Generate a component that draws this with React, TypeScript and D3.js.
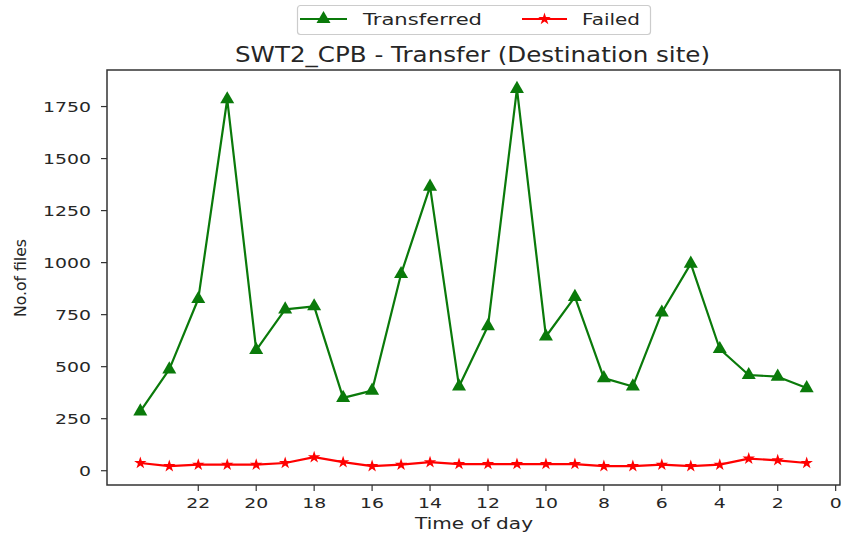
import React from "react";
import * as d3 from "d3";

// hours before now, left to right
const hours = [24, 23, 22, 21, 20, 19, 18, 17, 16, 15, 14, 13, 12, 11, 10, 9, 8, 7, 6, 5, 4, 3, 2, 1];
const transferred = [285, 487, 825, 1785, 580, 775, 790, 350, 385, 945, 1365, 405, 695, 1835, 645, 835, 445, 405, 760, 995, 585, 460, 452, 397];
const failed = [37, 22, 29, 29, 29, 37, 65, 41, 22, 29, 41, 32, 32, 32, 32, 32, 22, 22, 29, 22, 29, 58, 50, 37];
const xTicks = [22, 20, 18, 16, 14, 12, 10, 8, 6, 4, 2, 0];
const yTicks = [0, 250, 500, 750, 1000, 1250, 1500, 1750];

const W = 846;
const H = 535;
const left = 107, right = 840, top = 70, bottom = 485;
const font = "DejaVu Sans, sans-serif";
const txt = "#262626";
const green = "#0a7a0a";

const App = () => {
    const xPad = (d3.max(hours)! - d3.min(hours)!) * 0.05;
    const x = d3.scaleLinear()
        .domain([d3.max(hours)! + xPad, d3.min(hours)! - xPad])
        .range([left, right]);

    const all = transferred.concat(failed);
    const yMin = d3.min(all)!, yMax = d3.max(all)!;
    const yPad = (yMax - yMin) * 0.05;
    const y = d3.scaleLinear().domain([yMin - yPad, yMax + yPad]).range([bottom, top]);

    const line = d3.line<number>()
        .x((d, i) => x(hours[i]))
        .y((d) => y(d));

    const tri = d3.symbol().type(d3.symbolTriangle).size(85)()!;
    const star = d3.symbol().type(d3.symbolStar).size(48)()!;

    return (
        <svg width={W} height={H} style={{ position: "absolute", left: 0, top: 0, background: "#fff" }}>
            {/* title */}
            <text x={235} y={62} fontFamily={font} fontSize={21.5} fill={txt}
                textLength={475} lengthAdjust="spacingAndGlyphs">
                SWT2_CPB - Transfer (Destination site)
            </text>

            {/* legend */}
            <rect x={297.5} y={5.5} width={353} height={29} rx={3} fill="#fff" stroke="#cccccc" strokeWidth={1.2} />
            <line x1={300} x2={347} y1={19} y2={19} stroke={green} strokeWidth={2} />
            <path d={tri} transform="translate(323.5,19)" fill={green} />
            <text x={363} y={25} fontFamily={font} fontSize={16.5} fill={txt}
                textLength={119} lengthAdjust="spacingAndGlyphs">Transferred</text>
            <line x1={522} x2={567} y1={19} y2={19} stroke="red" strokeWidth={2} />
            <path d={star} transform="translate(544.5,19)" fill="red" />
            <text x={582} y={25} fontFamily={font} fontSize={16.5} fill={txt}
                textLength={58} lengthAdjust="spacingAndGlyphs">Failed</text>

            {/* y axis */}
            {yTicks.map((t) => (
                <g key={"y" + t}>
                    <line x1={left - 6} x2={left} y1={y(t)} y2={y(t)} stroke="#333" strokeWidth={1.2} />
                    <g transform={`translate(${91},${y(t) + 5.3}) scale(1.3,1)`}>
                        <text textAnchor="end" fontFamily={font} fontSize={14.5} fill={txt}>{t}</text>
                    </g>
                </g>
            ))}

            {/* x axis */}
            {xTicks.map((t) => (
                <g key={"x" + t}>
                    <line x1={x(t)} x2={x(t)} y1={bottom} y2={bottom + 6} stroke="#333" strokeWidth={1.2} />
                    <g transform={`translate(${x(t)},${508}) scale(1.3,1)`}>
                        <text textAnchor="middle" fontFamily={font} fontSize={14.5} fill={txt}>{t}</text>
                    </g>
                </g>
            ))}

            <text x={415} y={529} fontFamily={font} fontSize={15} fill={txt}
                textLength={118} lengthAdjust="spacingAndGlyphs">Time of day</text>
            <text transform="translate(26,317) rotate(-90)" fontFamily={font} fontSize={16} fill={txt}
                textLength={78} lengthAdjust="spacingAndGlyphs">No.of files</text>

            {/* series */}
            <path d={line(transferred)!} fill="none" stroke={green} strokeWidth={2.2} strokeLinejoin="round" />
            {transferred.map((v, i) => (
                <path key={"t" + i} d={tri} transform={`translate(${x(hours[i])},${y(v)})`} fill={green} />
            ))}
            <path d={line(failed)!} fill="none" stroke="red" strokeWidth={2.2} strokeLinejoin="round" />
            {failed.map((v, i) => (
                <path key={"f" + i} d={star} transform={`translate(${x(hours[i])},${y(v)})`} fill="red" />
            ))}

            {/* frame */}
            <rect x={left} y={top} width={right - left} height={bottom - top} fill="none" stroke="#333" strokeWidth={1.5} />
        </svg>
    );
};

export default App;
